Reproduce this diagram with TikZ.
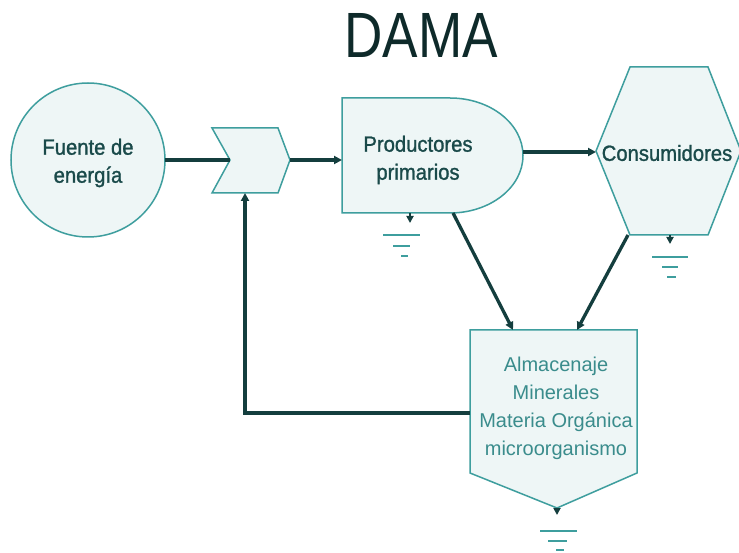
\documentclass[tikz,border=0pt]{standalone}
\usepackage{fontspec}
\setmainfont{Liberation Sans}
\newfontfamily\lblfont[FakeBold=1.2,FakeStretch=0.92]{Liberation Sans}
\newfontfamily\ttlfont[FakeStretch=0.83]{Liberation Sans}
\usetikzlibrary{arrows.meta}
\definecolor{boxfill}{HTML}{EEF6F6}
\definecolor{boxline}{HTML}{3E9E9E}
\definecolor{conn}{HTML}{143E3E}
\definecolor{lbl}{HTML}{1A4A4A}
\definecolor{lbl2}{HTML}{3A8C8C}
\definecolor{ttl}{HTML}{0E2A2A}
\begin{document}
\begin{tikzpicture}[x=1pt,y=-1pt,
  shapebox/.style={draw=boxline,fill=boxfill,line width=1.5pt,line join=miter},
  conn/.style={draw=conn,line width=3.3pt},
  arr/.style={conn,-{Triangle[length=8pt,width=8pt]}},
  stem/.style={draw=conn,line width=2pt,-{Triangle[length=7pt,width=7pt]}},
  gline/.style={draw=boxline,line width=2.5pt},
  lbl/.style={font=\lblfont\fontsize{22}{28}\selectfont,text=lbl,align=center,inner sep=0pt},
  lbltwo/.style={font=\fontsize{20}{28}\selectfont,text=lbl2,align=center,inner sep=0pt}]
\useasboundingbox (0,0) rectangle (739,553);
\fill[white] (0,0) rectangle (739,553);

% title
\node[font=\ttlfont\fontsize{64}{64}\selectfont,text=ttl,anchor=base,inner sep=0pt] (title) at (421,58) {DAMA};

% Fuente de energia
\draw[shapebox] (88,160) circle (77);
\node[lbl] (fuente) at (88,163) {Fuente de\\energía};
\coordinate (fuenteE) at (165,160);

% chevron
\draw[shapebox] (212,128) -- (278,128) -- (290,160) -- (278,193) -- (212,193) -- (230,160) -- cycle;
\coordinate (chevW) at (230,160);
\coordinate (chevE) at (290,160);
\coordinate (chevS) at (245,193);

% Productores primarios
\draw[shapebox] (342,98) -- (450,98) arc[start angle=-90,end angle=90,x radius=73,y radius=57.5] -- (342,213) -- cycle;
\node[lbl] (prod) at (418,160) {Productores\\primarios};
\coordinate (prodW) at (342,160);
\coordinate (prodE) at (523,152);
\coordinate (prodS) at (453,213);
\coordinate (prodG) at (410,213);

% Consumidores
\draw[shapebox] (630,67) -- (708,67) -- (741,151) -- (708,235) -- (630,235) -- (596,151) -- cycle;
\node[lbl] (cons) at (667,153) {Consumidores};
\coordinate (consW) at (596,152);
\coordinate (consS) at (628,235);
\coordinate (consG) at (670,235);

% Almacenaje
\draw[shapebox] (470,330) -- (637,330) -- (637,473) -- (557,508) -- (470,473) -- cycle;
\node[lbltwo] (alm) at (556,408) {Almacenaje\\Minerales\\Materia Orgánica\\microorganismo};
\coordinate (almN1) at (513,330);
\coordinate (almN2) at (577,330);
\coordinate (almW) at (470,413);
\coordinate (almG) at (557,508);
\coordinate (fb) at (245,413);

% connectors
\draw[conn] (fuenteE) -- (chevW);
\draw[arr] (chevE) -- (prodW);
\draw[arr] (prodE) -- (consW);
\draw[arr] (prodS) -- (almN1);
\draw[arr] (consS) -- (almN2);
\draw[arr] (almW) -- (fb) -- (chevS);

% grounds
\draw[stem] (prodG) -- ++(0,10);
\draw[gline] (383,235) -- (420,235) (393,246) -- (410,246) (401,256) -- (408,256);
\draw[stem] (consG) -- ++(0,9);
\draw[gline] (652,257) -- (688,257) (662,267) -- (678,267) (667,277) -- (676,277);
\draw[stem] (almG) -- ++(0,7);
\draw[gline] (540,531) -- (577,531) (548,541) -- (567,541) (556,550) -- (564,550);
\end{tikzpicture}
\end{document}
